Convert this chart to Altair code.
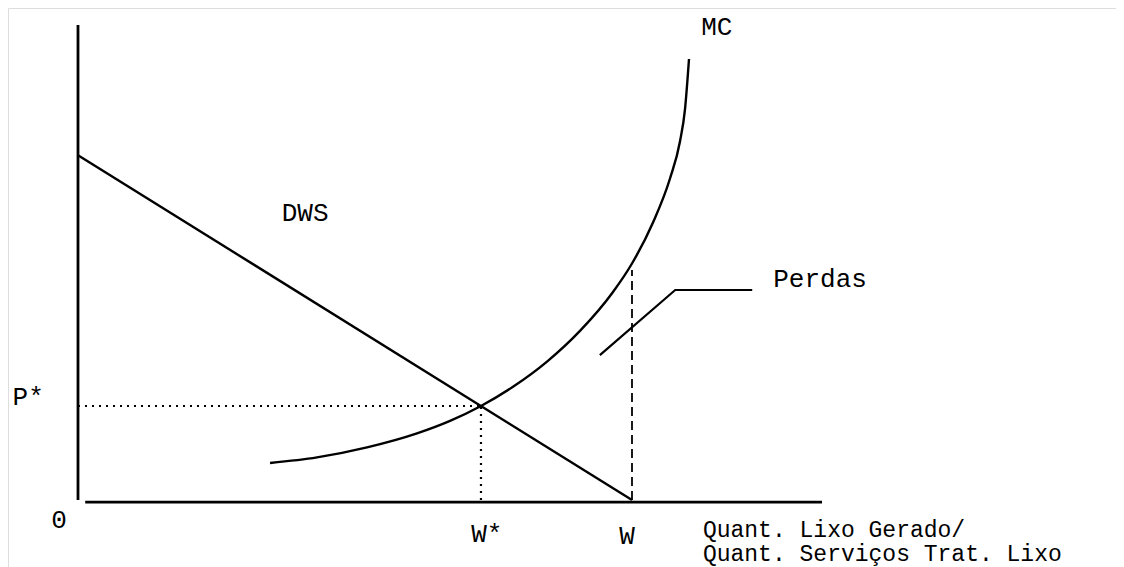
import altair as alt
import pandas as pd

# ---- data (quantity units: W = 100 ; price units: arbitrary) ----
dws_q = [0, 100]
dws_p = [98.5, 0]

mc_q = [34.66, 43.14, 52.17, 61.19, 67.15, 72.74, 78.52, 84.66, 90.61, 96.57, 100.0, 103.79, 106.86, 108.66, 109.57, 110.29]
mc_p = [10.57, 12.17, 15.03, 19.03, 22.60, 26.86, 32.34, 39.54, 48.31, 59.43, 67.57, 79.29, 91.86, 102.43, 111.71, 126.0]

w_star = 72.74
p_star = 26.86
w_full = 100
dash_top = 65.7

yaxis_q = [0, 0]
yaxis_p = [0, 135.7]
xaxis_q = [1.3, 134.3]
xaxis_p = [-0.6, -0.6]

leader_q = [94.2, 107.8, 121.7]
leader_p = [41.4, 60.0, 60.0]

center_labels = ["MC", "DWS", "P*", "0", "W*", "W"]
center_q = [115.3, 41.0, -9.0, -3.4, 73.8, 99.1]
center_p = [135.1, 82.0, 29.4, -5.7, -9.7, -10.3]

left_labels = ["Perdas", "Quant. Lixo Gerado/", "Quant. Serviços Trat. Lixo"]
left_q = [125.5, 112.8, 112.8]
left_p = [63.1, -8.5, -15.4]
left_size = [26, 23, 23]

# ---- scales ----
H = 559
xs = alt.Scale(domain=[-12.635, 187.365], nice=False, zero=False)
ys = alt.Scale(domain=[140.571 - H / 3.5, 140.571], nice=False, zero=False)
FONT = "Liberation Mono"


def seg(q, p, width=2.4, dash=None, interp="linear"):
    df = pd.DataFrame({"q": q, "p": p, "i": list(range(len(q)))})
    kw = dict(color="black", strokeWidth=width, interpolate=interp, clip=False)
    if dash is not None:
        kw["strokeDash"] = dash
    return alt.Chart(df).mark_line(**kw).encode(
        x=alt.X("q:Q", scale=xs, axis=None),
        y=alt.Y("p:Q", scale=ys, axis=None),
        order="i:O",
    )


layers = [
    seg(yaxis_q, yaxis_p, width=2.8),
    seg(xaxis_q, xaxis_p, width=2.8),
    seg(dws_q, dws_p, width=2.4),
    seg(mc_q, mc_p, width=2.4, interp="monotone"),
    seg([0, w_star], [p_star, p_star], width=2.2, dash=[2, 5]),
    seg([w_star, w_star], [0, p_star], width=2.2, dash=[2, 5]),
    seg([w_full, w_full], [0, dash_top], width=1.8, dash=[9, 5]),
    seg(leader_q, leader_p, width=2.2),
]

cdf = pd.DataFrame({"t": center_labels, "q": center_q, "p": center_p})
ldf = pd.DataFrame({"t": left_labels, "q": left_q, "p": left_p, "s": left_size})

layers.append(
    alt.Chart(cdf).mark_text(font=FONT, fontSize=26, color="black", align="center", baseline="middle").encode(
        x=alt.X("q:Q", scale=xs, axis=None), y=alt.Y("p:Q", scale=ys, axis=None), text="t:N"
    )
)
layers.append(
    alt.Chart(ldf).mark_text(font=FONT, color="black", align="left", baseline="middle").encode(
        x=alt.X("q:Q", scale=xs, axis=None),
        y=alt.Y("p:Q", scale=ys, axis=None),
        text="t:N",
        size=alt.Size("s:Q", scale=None, legend=None),
    )
)

chart = alt.layer(*layers).properties(
    width=1108, height=H, padding=0, autosize=alt.AutoSizeParams(type="none")
).configure_view(stroke=None).configure(background="white")

chart.save("out.html", embed_options={"renderer": "svg", "actions": False})
